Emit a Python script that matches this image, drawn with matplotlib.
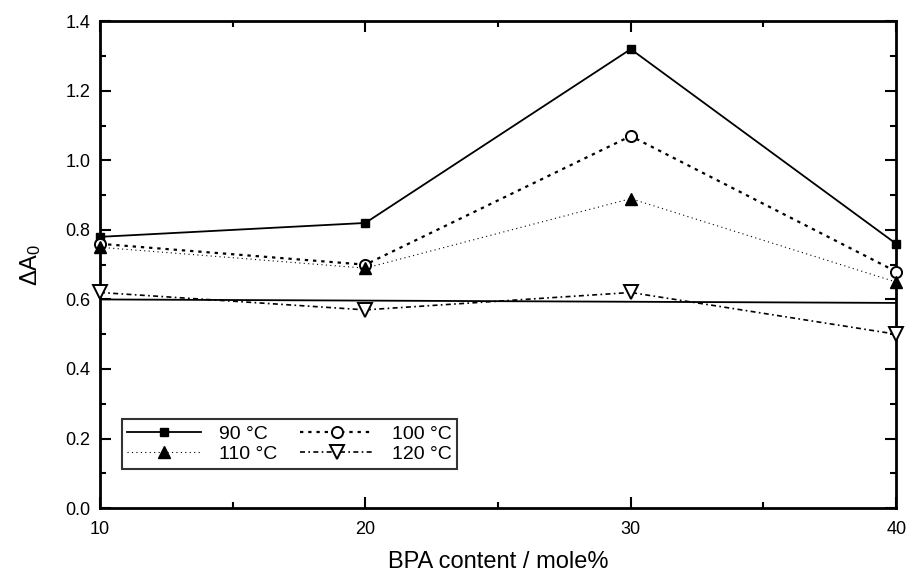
import matplotlib
matplotlib.use('Agg')
import matplotlib.pyplot as plt
from matplotlib.ticker import MultipleLocator

plt.rcParams['font.family'] = ['Liberation Sans', 'DejaVu Sans']
plt.rcParams['mathtext.fontset'] = 'custom'
plt.rcParams['mathtext.rm'] = 'Liberation Sans'

# BPA content (mole%)
bpa = [10, 20, 30, 40]

# Delta A0 for each temperature
dA_90 = [0.78, 0.82, 1.32, 0.76]
dA_100 = [0.76, 0.70, 1.07, 0.68]
dA_110 = [0.75, 0.69, 0.89, 0.65]
dA_120 = [0.62, 0.57, 0.62, 0.50]

# horizontal solid reference line
ref_x = [10, 40]
ref_y = [0.60, 0.59]

fig = plt.figure(figsize=(9.08, 5.76), dpi=100)
ax = fig.add_axes([0.110, 0.118, 0.877, 0.845])

ax.plot(ref_x, ref_y, '-', color='black', lw=1.3)
l90, = ax.plot(bpa, dA_90, '-', color='black', lw=1.3, marker='s', ms=6,
               mfc='black', label='90 °C', clip_on=False, zorder=5)
l100, = ax.plot(bpa, dA_100, color='black', lw=1.6, ls=(0, (1.5, 2.2)), marker='o', ms=8,
                mfc='white', mew=1.4, label='100 °C', clip_on=False, zorder=5)
l110, = ax.plot(bpa, dA_110, color='black', lw=0.8, ls=(0, (1, 3)), marker='^', ms=9,
                mfc='black', label='110 °C', clip_on=False, zorder=5)
l120, = ax.plot(bpa, dA_120, color='black', lw=1.2, ls=(0, (3, 2, 1, 2)), marker='v', ms=10,
                mfc='white', mew=1.4, label='120 °C', clip_on=False, zorder=5)

ax.set_xlim(10, 40)
ax.set_ylim(0.0, 1.4)
ax.xaxis.set_major_locator(MultipleLocator(10))
ax.xaxis.set_minor_locator(MultipleLocator(5))
ax.yaxis.set_major_locator(MultipleLocator(0.2))
ax.yaxis.set_minor_locator(MultipleLocator(0.1))
ax.yaxis.set_major_formatter(lambda v, p: f'{v:.1f}')

ax.tick_params(which='both', direction='in', top=True, right=True, width=1.5)
ax.tick_params(which='major', length=8, labelsize=13)
ax.tick_params(axis='x', which='major', pad=9)
ax.tick_params(axis='y', which='major', pad=7)
ax.tick_params(which='minor', length=4)
for s in ax.spines.values():
    s.set_linewidth(2)

ax.set_xlabel('BPA content / mole%', fontsize=17, labelpad=10)
ax.set_ylabel(r'$\mathrm{\Delta A_0}$', fontsize=17, labelpad=16)

# row-wise order: 90, 100 / 110, 120
leg = ax.legend([l90, l110, l100, l120], ['90 °C', '110 °C', '100 °C', '120 °C'],
                loc='lower left', bbox_to_anchor=(0.015, 0.06), ncol=2,
                fontsize=14, frameon=True, fancybox=False, edgecolor='black',
                handlelength=3.8, columnspacing=1.2, handletextpad=0.9,
                borderpad=0.3, labelspacing=0.15, markerfirst=True)
leg.get_frame().set_linewidth(1.5)

fig.savefig('out.png', dpi=100)
